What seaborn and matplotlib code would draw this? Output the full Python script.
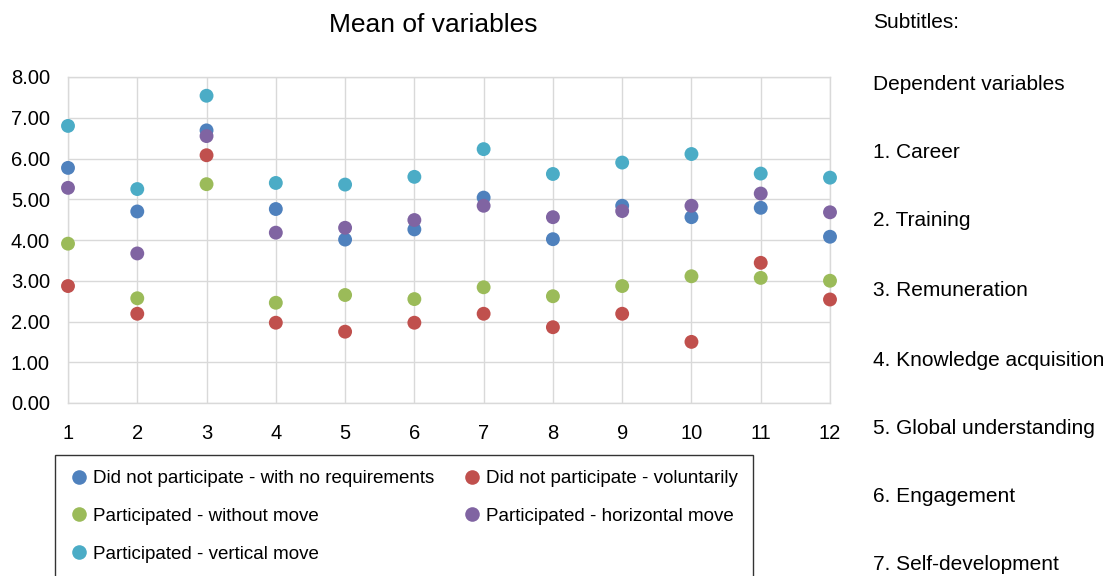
import numpy as np
import pandas as pd
import matplotlib
matplotlib.use("Agg")
import matplotlib.pyplot as plt
import seaborn as sns
from matplotlib.lines import Line2D

variables = list(range(1, 13))
no_requirements = [5.77, 4.70, 6.69, 4.76, 4.01, 4.26, 5.04, 4.02, 4.84, 4.56, 4.79, 4.08]
voluntarily = [2.87, 2.19, 6.08, 1.97, 1.75, 1.97, 2.19, 1.86, 2.19, 1.50, 3.44, 2.54]
without_move = [3.91, 2.57, 5.37, 2.46, 2.65, 2.55, 2.84, 2.62, 2.87, 3.11, 3.07, 3.00]
horizontal_move = [5.28, 3.67, 6.55, 4.18, 4.30, 4.49, 4.84, 4.56, 4.71, 4.84, 5.14, 4.68]
vertical_move = [6.80, 5.25, 7.54, 5.40, 5.36, 5.55, 6.23, 5.62, 5.90, 6.11, 5.63, 5.53]

series_names = [
    "Did not participate - with no requirements",
    "Did not participate - voluntarily",
    "Participated - without move",
    "Participated - horizontal move",
    "Participated - vertical move",
]
series_values = [no_requirements, voluntarily, without_move, horizontal_move, vertical_move]
colors = ["#4F81BD", "#C0504D", "#9BBB59", "#8064A2", "#4BACC6"]

subtitles = [
    "Subtitles:",
    "Dependent variables",
    "1. Career",
    "2. Training",
    "3. Remuneration",
    "4. Knowledge acquisition",
    "5. Global understanding",
    "6. Engagement",
    "7. Self-development",
]

df = pd.concat(
    [pd.DataFrame({"var": variables, "mean": vals, "group": name})
     for name, vals in zip(series_names, series_values)],
    ignore_index=True,
)

sns.set_style("white")
plt.rcParams["font.family"] = ["Liberation Sans", "DejaVu Sans"]
plt.rcParams["text.color"] = "black"

fig = plt.figure(figsize=(11.1, 5.76), dpi=100)
ax = fig.add_axes([68 / 1110, 1 - 403 / 576, (830 - 68) / 1110, (403 - 77) / 576])

sns.scatterplot(
    data=df, x="var", y="mean", hue="group", hue_order=series_names,
    palette=dict(zip(series_names, colors)), s=100, linewidth=0,
    ax=ax, legend=False, clip_on=False, zorder=3,
)

ax.set_xlim(1, 12)
ax.set_ylim(0, 8)
ax.set_xticks(variables)
ax.set_yticks(np.arange(0, 9, 1))
ax.set_yticklabels([f"{v:.2f}" for v in np.arange(0, 9, 1)])
ax.set_xlabel("")
ax.set_ylabel("")
ax.grid(True, color="#d9d9d9", linewidth=1)
ax.set_axisbelow(True)
for sp in ax.spines.values():
    sp.set_color("#d9d9d9")
    sp.set_linewidth(1)
ax.tick_params(axis="both", length=0, labelsize=14.5, colors="black")
ax.tick_params(axis="x", pad=15)
ax.tick_params(axis="y", pad=13)

fig.text(433 / 1110, 1 - 25 / 576, "Mean of variables", ha="center", va="center",
         fontsize=19, color="black")

# legend
handles = [Line2D([], [], marker="o", linestyle="", markersize=10.5,
                  markerfacecolor=c, markeredgewidth=0) for c in colors]
order = [0, 2, 4, 1, 3]
leg = fig.legend(
    [handles[i] for i in order], [series_names[i] for i in order],
    ncol=2, loc="upper left", bbox_to_anchor=(55 / 1110, 1 - 455 / 576),
    fontsize=13.5, frameon=True, fancybox=False, edgecolor="black",
    labelspacing=1.1, columnspacing=1.5, handletextpad=0.25,
    handlelength=1.0, borderpad=0.8, borderaxespad=0,
)
leg.get_frame().set_linewidth(1.0)
for t in leg.get_texts():
    t.set_color("black")

ys = [23, 84, 153, 220, 291, 360, 428, 496, 565]
for t, y in zip(subtitles, ys):
    fig.text(873 / 1110, 1 - y / 576, t, ha="left", va="center", fontsize=15, color="black")

fig.savefig("out.png", dpi=100)
